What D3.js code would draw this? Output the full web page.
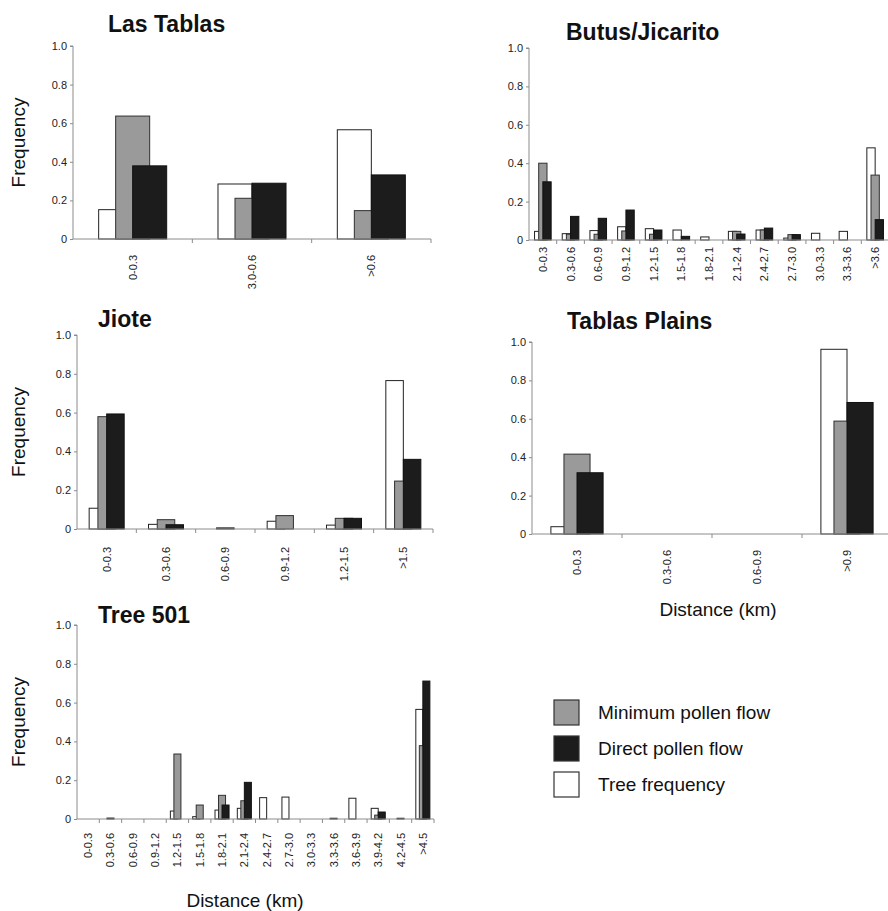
<!DOCTYPE html>
<html>
<head>
<meta charset="utf-8">
<script src="https://cdn.jsdelivr.net/npm/d3@7"></script>
<style>
  html, body { margin: 0; padding: 0; background: #fff; }
  svg { display: block; font-family: "Liberation Sans", Arial, sans-serif; }
</style>
</head>
<body>
<svg id="chart" width="888" height="911"></svg>
<script>
// ---- Data: frequency of pollen flow and trees by distance class (km) ----
const yTicks = [0, 0.2, 0.4, 0.6, 0.8, 1.0];
const seriesNames = ["Tree frequency", "Minimum pollen flow", "Direct pollen flow"];

const lasTablasCats   = ["0-0.3", "3.0-0.6", ">0.6"];
const lasTablasTree   = [0.152, 0.285, 0.566];
const lasTablasMin    = [0.637, 0.211, 0.147];
const lasTablasDirect = [0.379, 0.289, 0.332];

const butusCats   = ["0-0.3", "0.3-0.6", "0.6-0.9", "0.9-1.2", "1.2-1.5", "1.5-1.8", "1.8-2.1",
                     "2.1-2.4", "2.4-2.7", "2.7-3.0", "3.0-3.3", "3.3-3.6", ">3.6"];
const butusTree   = [0.045, 0.033, 0.049, 0.069, 0.059, 0.052, 0.016, 0.045, 0.052, 0.010, 0.035, 0.045, 0.480];
const butusMin    = [0.400, 0.030, 0.030, 0.047, 0.030, 0.000, 0.000, 0.045, 0.052, 0.028, 0.000, 0.000, 0.338];
const butusDirect = [0.303, 0.123, 0.113, 0.156, 0.052, 0.019, 0.000, 0.031, 0.062, 0.028, 0.000, 0.000, 0.106];

const jioteCats   = ["0-0.3", "0.3-0.6", "0.6-0.9", "0.9-1.2", "1.2-1.5", ">1.5"];
const jioteTree   = [0.107, 0.024, 0.000, 0.040, 0.020, 0.765];
const jioteMin    = [0.579, 0.048, 0.006, 0.069, 0.055, 0.247];
const jioteDirect = [0.593, 0.022, 0.000, 0.000, 0.055, 0.359];

const plainsCats   = ["0-0.3", "0.3-0.6", "0.6-0.9", ">0.9"];
const plainsTree   = [0.038, 0, 0, 0.962];
const plainsMin    = [0.416, 0, 0, 0.588];
const plainsDirect = [0.319, 0, 0, 0.685];

const tree501Cats   = ["0-0.3", "0.3-0.6", "0.6-0.9", "0.9-1.2", "1.2-1.5", "1.5-1.8", "1.8-2.1", "2.1-2.4",
                       "2.4-2.7", "2.7-3.0", "3.0-3.3", "3.3-3.6", "3.6-3.9", "3.9-4.2", "4.2-4.5", ">4.5"];
const tree501Tree   = [0, 0, 0, 0, 0.041, 0.012, 0.046, 0.055, 0.110, 0.113, 0, 0, 0.107, 0.055, 0, 0.565];
const tree501Min    = [0, 0.005, 0, 0, 0.335, 0.072, 0.122, 0.094, 0, 0, 0, 0.004, 0, 0.020, 0.004, 0.378];
const tree501Direct = [0, 0, 0, 0, 0, 0, 0.072, 0.189, 0, 0, 0, 0, 0, 0.036, 0, 0.711];

// ---- Panel layout (pixel frames for each small multiple) ----
const panels = [
  { title: "Las Tablas",      cats: lasTablasCats, series: [lasTablasTree, lasTablasMin, lasTablasDirect],
    x0: 73,  x1: 431, yTop: 46,  yBot: 239, tx: 108, ty: 32,  gap: 16, group: 0.57, freq: true },
  { title: "Butus/Jicarito",  cats: butusCats, series: [butusTree, butusMin, butusDirect],
    x0: 529, x1: 889, yTop: 48,  yBot: 240, tx: 566, ty: 40,  gap: 7,  group: 0.60, freq: false },
  { title: "Jiote",           cats: jioteCats, series: [jioteTree, jioteMin, jioteDirect],
    x0: 77,  x1: 433, yTop: 335, yBot: 529, tx: 98,  ty: 327, gap: 18, group: 0.59, freq: true },
  { title: "Tablas Plains",   cats: plainsCats, series: [plainsTree, plainsMin, plainsDirect],
    x0: 532, x1: 892, yTop: 342, yBot: 534, tx: 567, ty: 329, gap: 16, group: 0.58, freq: false,
    dist: { x: 718, y: 616 } },
  { title: "Tree 501",        cats: tree501Cats, series: [tree501Tree, tree501Min, tree501Direct],
    x0: 77,  x1: 434, yTop: 625, yBot: 819, tx: 98,  ty: 623, gap: 14, group: 0.63, freq: true,
    dist: { x: 245, y: 907 } }
];

const fills   = ["#ffffff", "#9a9a9a", "#1c1c1c"];
const strokes = ["#222222", "#303030", "#111111"];
const axisColor = "#8c8c8c";

const svg = d3.select("#chart");

panels.forEach(p => {
  const g = svg.append("g");

  const x = d3.scaleBand().domain(p.cats).range([p.x0, p.x1]).padding(0);
  const y = d3.scaleLinear().domain([0, 1]).range([p.yBot, p.yTop]);
  const bw = x.bandwidth() * p.group / 2;   // bar width, bars overlap by half

  // Title
  g.append("text")
    .attr("x", p.tx).attr("y", p.ty)
    .attr("font-size", 23).attr("font-weight", "bold").attr("fill", "#111")
    .text(p.title);

  // Y axis
  const yAxis = d3.axisLeft(y).tickValues(yTicks)
    .tickFormat(d => d === 0 ? "0" : d3.format(".1f")(d))
    .tickSize(3).tickPadding(3);
  const ya = g.append("g").attr("transform", `translate(${p.x0},0)`).call(yAxis);
  ya.select(".domain").attr("stroke", axisColor).attr("d", `M-3,${p.yTop}H0V${p.yBot}`);
  ya.selectAll(".tick line").attr("stroke", axisColor);
  ya.selectAll(".tick text").attr("font-size", 11).attr("fill", "#222")
    .attr("font-family", "Liberation Sans, Arial, sans-serif");

  if (p.freq) {
    g.append("text")
      .attr("transform", `translate(18,${(p.yTop + p.yBot) / 2}) rotate(-90)`)
      .attr("text-anchor", "middle").attr("dominant-baseline", "central")
      .attr("font-size", 19).attr("fill", "#111")
      .text("Frequency");
  }

  // Bars: tree frequency behind, minimum flow, direct flow in front
  p.series.forEach((vals, si) => {
    g.append("g").selectAll("rect")
      .data(p.cats.map((c, i) => ({ c, v: vals[i] })).filter(d => d.v > 0))
      .join("rect")
      .attr("x", d => x(d.c) + x.bandwidth() / 2 - bw + si * bw / 2)
      .attr("width", bw)
      .attr("y", d => y(d.v))
      .attr("height", d => y(0) - y(d.v))
      .attr("fill", fills[si])
      .attr("stroke", strokes[si])
      .attr("stroke-width", 1);
  });

  // X axis line with boundary ticks
  g.append("line")
    .attr("x1", p.x0).attr("x2", p.x1).attr("y1", y(0)).attr("y2", y(0))
    .attr("stroke", axisColor);
  g.append("g").selectAll("line")
    .data(p.cats)
    .join("line")
    .attr("x1", d => x(d) + x.bandwidth()).attr("x2", d => x(d) + x.bandwidth())
    .attr("y1", y(0)).attr("y2", y(0) + 4)
    .attr("stroke", axisColor);

  // Rotated category labels
  g.append("g").selectAll("text")
    .data(p.cats)
    .join("text")
    .attr("transform", d => `translate(${x(d) + x.bandwidth() / 2},${y(0) + p.gap}) rotate(-90)`)
    .attr("text-anchor", "end").attr("dominant-baseline", "central")
    .attr("font-size", 11).attr("fill", "#222")
    .text(d => d);

  if (p.dist) {
    g.append("text")
      .attr("x", p.dist.x).attr("y", p.dist.y)
      .attr("text-anchor", "middle")
      .attr("font-size", 19).attr("fill", "#111")
      .text("Distance (km)");
  }
});

// Legend
const legendOrder = [1, 2, 0];
const legend = svg.append("g");
legendOrder.forEach((si, k) => {
  const yy = 700 + k * 36;
  legend.append("rect")
    .attr("x", 554).attr("y", yy).attr("width", 25).attr("height", 25)
    .attr("fill", fills[si]).attr("stroke", "#333").attr("stroke-width", 1.2);
  legend.append("text")
    .attr("x", 598).attr("y", yy + 19)
    .attr("font-size", 19).attr("fill", "#111")
    .text(seriesNames[si]);
});
</script>
</body>
</html>
